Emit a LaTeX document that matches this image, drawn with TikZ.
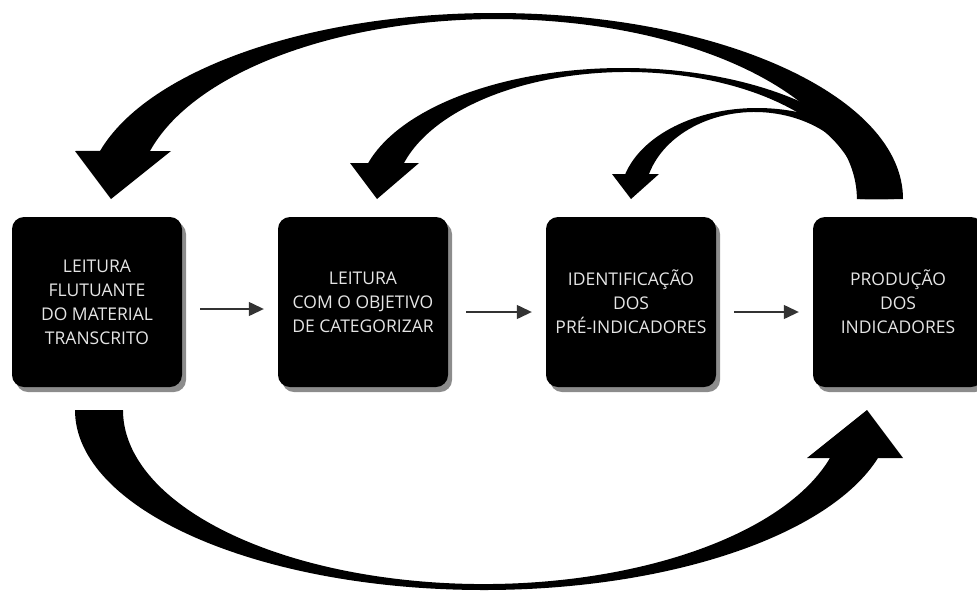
\documentclass[tikz,border=0pt]{standalone}
\usepackage{fontspec}
\setmainfont{Open Sans}
\usepackage{tikz}
\usetikzlibrary{arrows.meta,positioning,shadows}

\tikzset{
  stage/.style={draw=none,fill=black,rounded corners=12pt,minimum width=170pt,minimum height=170pt,
    align=center,text=white!90!black,font=\fontsize{17.5}{24}\selectfont,
    drop shadow={shadow xshift=4pt,shadow yshift=-5pt,fill=black!45,opacity=1}},
  flow/.style={-{Triangle[length=15pt,width=14pt]},line width=1.3pt,black!80,shorten <=18pt,shorten >=14pt}
}

\begin{document}
\begin{tikzpicture}[x=1pt,y=1pt]
\useasboundingbox (0,0) rectangle (977,-595);
% stages
\node[stage] (b1) at (97,-302) {LEITURA\\FLUTUANTE\\DO MATERIAL\\TRANSCRITO};
\node[stage] (b2) at (363,-302) {LEITURA\\COM O OBJETIVO\\DE CATEGORIZAR};
\node[stage] (b3) at (631,-302) {IDENTIFICAÇÃO\\DOS\\PRÉ-INDICADORES};
\node[stage] (b4) at (898,-302) {PRODUÇÃO\\DOS\\INDICADORES};
% forward steps
\draw[flow] ([yshift=-7pt]b1.east) -- ([yshift=-7pt]b2.west);
\draw[flow] ([yshift=-10pt]b2.east) -- ([yshift=-10pt]b3.west);
\draw[flow] ([yshift=-10pt]b3.east) -- ([yshift=-10pt]b4.west);
% curved returns (filled)
\fill (888,-199) arc[start angle=0,end angle=164.05,x radius=265pt,y radius=131pt]
  -- (350,-163) -- (377,-199) -- (419,-163) -- (404,-163)
  arc[start angle=163.53,end angle=0,x radius=232.8pt,y radius=127pt] -- cycle;
\fill (894,-199) arc[start angle=0,end angle=164.06,x radius=137pt,y radius=91pt]
  -- (612,-174) -- (631,-199) -- (659,-174) -- (649,-174)
  arc[start angle=163.3,end angle=0,x radius=110.3pt,y radius=87pt] -- cycle;
\fill (903,-199) arc[start angle=0,end angle=165,x radius=408.4pt,y radius=186pt]
  -- (75,-151) -- (111,-199) -- (171,-151) -- (150,-151)
  arc[start angle=164.5,end angle=0,x radius=360pt,y radius=180pt] -- cycle;
\fill (75,-410) arc[start angle=180,end angle=344.5,x radius=408.9pt,y radius=180pt]
  -- (903,-458) -- (867,-410) -- (807,-458) -- (830,-458)
  arc[start angle=343.99,end angle=180,x radius=360.5pt,y radius=174pt] -- cycle;
\end{tikzpicture}
\end{document}
